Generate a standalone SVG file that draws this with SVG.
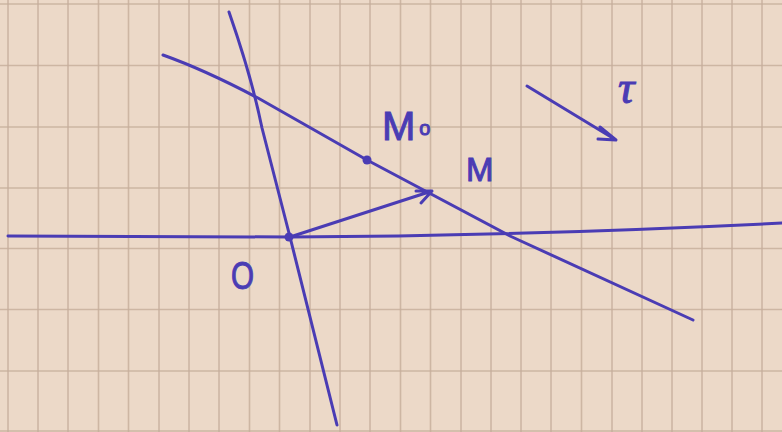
<svg xmlns="http://www.w3.org/2000/svg" width="782" height="432" viewBox="0 0 782 432">
<defs>
<style>
.grid line{stroke:#c6ae9b;stroke-width:1.6;opacity:0.8}
.pen{fill:none;stroke:#4a3cb4;stroke-width:3;stroke-linecap:round;stroke-linejoin:round}
.lbl{fill:#4a3cb4;stroke:#4a3cb4;stroke-width:1;font-family:"Liberation Sans",Arial,sans-serif}
</style>
</defs>
<rect width="782" height="432" fill="#ecd9c8"/>
<g class="grid">
<line x1="8" y1="0" x2="8" y2="432"/><line x1="38" y1="0" x2="38" y2="432"/><line x1="68" y1="0" x2="68" y2="432"/><line x1="98.5" y1="0" x2="98.5" y2="432"/><line x1="128.5" y1="0" x2="128.5" y2="432"/><line x1="159" y1="0" x2="159" y2="432"/><line x1="189" y1="0" x2="189" y2="432"/><line x1="219" y1="0" x2="219" y2="432"/><line x1="249.5" y1="0" x2="249.5" y2="432"/><line x1="279.5" y1="0" x2="279.5" y2="432"/><line x1="310" y1="0" x2="310" y2="432"/><line x1="340" y1="0" x2="340" y2="432"/><line x1="370" y1="0" x2="370" y2="432"/><line x1="400.5" y1="0" x2="400.5" y2="432"/><line x1="430.5" y1="0" x2="430.5" y2="432"/><line x1="461" y1="0" x2="461" y2="432"/><line x1="491" y1="0" x2="491" y2="432"/><line x1="521" y1="0" x2="521" y2="432"/><line x1="551" y1="0" x2="551" y2="432"/><line x1="581.5" y1="0" x2="581.5" y2="432"/><line x1="612" y1="0" x2="612" y2="432"/><line x1="642" y1="0" x2="642" y2="432"/><line x1="672" y1="0" x2="672" y2="432"/><line x1="702" y1="0" x2="702" y2="432"/><line x1="732" y1="0" x2="732" y2="432"/><line x1="762" y1="0" x2="762" y2="432"/>
<line x1="0" y1="4" x2="782" y2="4"/><line x1="0" y1="65.5" x2="782" y2="65.5"/><line x1="0" y1="127" x2="782" y2="127"/><line x1="0" y1="188" x2="782" y2="188"/><line x1="0" y1="248.5" x2="782" y2="248.5"/><line x1="0" y1="309.5" x2="782" y2="309.5"/><line x1="0" y1="371" x2="782" y2="371"/><line x1="0" y1="431" x2="782" y2="431"/>
</g>
<g id="lines" class="pen">
<path d="M8,236 L290,237 Q520,236 782,223"/>
<path d="M229,12 Q252,78 262,128 L290,237 L337,425"/>
<path d="M163,55 Q205,70 258,98 L367,160 L510,236 L693,320"/>
<path d="M290,237 L432,191 M416,191 L432,191 L421,203"/>
<path d="M527,86 L616,140 M600,127 L616,140 L598,139"/>
</g>
<g id="points" fill="#4a3cb4">
<circle cx="367" cy="160" r="4.5"/>
<circle cx="289" cy="237" r="4.5"/>
</g>
<g id="labels">
<text class="lbl" x="382" y="140" font-size="40">M<tspan font-size="20" dx="4" dy="-5">o</tspan></text>
<text class="lbl" x="466" y="181" font-size="33">M</text>
<text class="lbl" x="231" y="289" font-size="38" textLength="23" lengthAdjust="spacingAndGlyphs">O</text>
<text class="lbl" x="618" y="103" font-size="46" font-style="italic" style="font-family:'Liberation Serif',serif">τ</text>
</g>
</svg>
